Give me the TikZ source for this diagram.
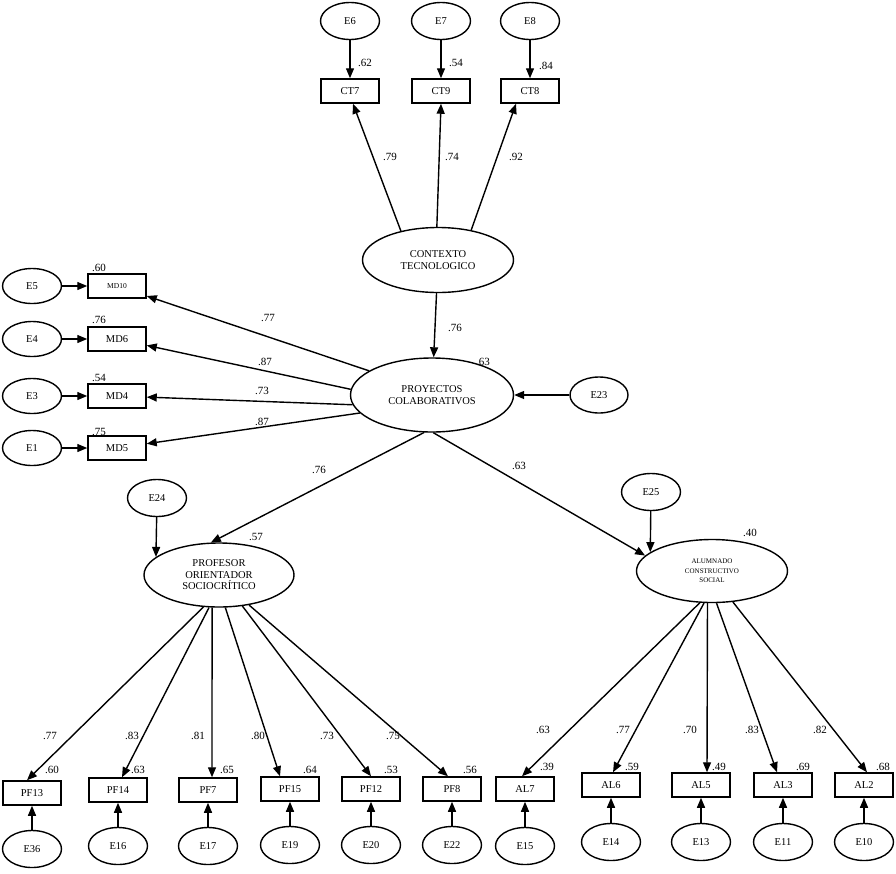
\documentclass[tikz,border=0pt]{standalone}
\usepackage{fontspec}
\setmainfont{Liberation Serif}
\usetikzlibrary{shapes.geometric,arrows.meta}

\tikzset{
  err/.style={draw,ellipse,line width=1.4pt,minimum width=59pt,minimum height=37pt,inner sep=0pt,font=\fontsize{10.5}{11}\selectfont},
  obs/.style={draw,rectangle,line width=1.5pt,minimum width=58pt,minimum height=24pt,inner sep=0pt,font=\fontsize{10.5}{11}\selectfont},
  lat/.style={draw,ellipse,line width=1.4pt,inner sep=0pt,align=center,font=\fontsize{10.5}{11.5}\selectfont},
  path/.style={-{Triangle[length=10pt,width=8pt]},line width=1.4pt},
  coef/.style={inner sep=0pt,font=\fontsize{11}{11}\selectfont}
}

\begin{document}
\begin{tikzpicture}[x=1pt,y=-1pt]
\useasboundingbox (0,0) rectangle (896,873);

%Latent Variables
\node[lat,minimum width=151pt,minimum height=65pt] (ctx) at (438,260) {CONTEXTO\\TECNOLOGICO};
\node[lat,minimum width=163pt,minimum height=74pt] (pc) at (432,395) {PROYECTOS\\COLABORATIVOS};
\node[lat,minimum width=150pt,minimum height=64pt] (pof) at (219,575) {PROFESOR\\ORIENTADOR\\SOCIOCR\'ITICO};
\node[lat,minimum width=151pt,minimum height=63pt,font=\fontsize{7}{9.7}\selectfont] (alu) at (712,571) {ALUMNADO\\CONSTRUCTIVO\\SOCIAL};

%Disturbances
\node[err,minimum width=58pt,minimum height=36pt] (e23) at (599,395) {E23};
\node[err] (e24) at (157,498) {E24};
\node[err] (e25) at (651,492) {E25};
\draw[path] (e23) -- (pc);
\draw[path] (e24) -- (pof.164);
\draw[path] (e25) -- (alu.163);

%Structural Paths
\draw[path] (ctx) -- (pc);
\draw[path] (pc.258) -- (pof.104);
\draw[path] (pc.272) -- (alu.167);
\node[coef] (b1) at (455,328) {.76};
\node[coef] (b2) at (319,470) {.76};
\node[coef] (b3) at (519,466) {.63};
\node[coef] (r1) at (483,362) {.63};
\node[coef] (r2) at (256,537) {.57};
\node[coef] (r3) at (750,533) {.40};

%Contexto Tecnologico Indicators
\foreach \n/\t/\e/\x/\a/\d/\l/\lx/\r/\rx/\ry in {ct7/CT7/E6/350/142/3/.79/390/.62/365/63,
  ct9/CT9/E7/441/92/0/.74/452/.54/456/63,
  ct8/CT8/E8/530/42/-14/.92/516/.84/546/66}{
  \node[err] (e\n) at (\x,21) {\e};
  \node[obs] (\n) at (\x,91) {\t};
  \draw[path] (e\n) -- (\n);
  \draw[path] (ctx.\a) -- ([xshift=\d pt]\n.south);
  \node[coef] (l\n) at (\lx,157) {\l};
  \node[coef] (q\n) at (\rx,\ry) {\r};
}

%Proyectos Colaborativos Indicators
\foreach \n/\t/\e/\y/\a/\l/\lx/\ly/\r/\ry in {md10/{\fontsize{7.5}{8}\selectfont MD10}/E5/286/159/.77/268/318/.60/268,
  md6/MD6/E4/339/176/.87/265/362/.76/320,
  md4/MD4/E3/396/187/.73/262/391/.54/378,
  md5/MD5/E1/448/194/.87/262/422/.75/432}{
  \node[err,minimum height=35pt] (e\n) at (32,\y) {\e};
  \node[obs] (\n) at (117,\y) {\t};
  \draw[path] (e\n) -- (\n);
  \draw[path] (pc.\a) -- (\n);
  \node[coef] (l\n) at (\lx,\ly) {\l};
  \node[coef] (q\n) at (99,\ry) {\r};
}

%Profesor Indicators
\foreach \n/\t/\e/\x/\y/\a/\d/\l/\lx/\r/\rx in {pf13/PF13/E36/32/793/244/-5/.77/50/.60/52,
  pf14/PF14/E16/118/790/253/4/.83/132/.63/138,
  pf7/PF7/E17/208/790/258/4/.81/198/.65/227,
  pf15/PF15/E19/290/789/281/-10/.80/258/.64/310,
  pf12/PF12/E20/371/789/307/0/.73/327/.53/391,
  pf8/PF8/E22/452/789/315/-4/.75/393/.56/470}{
  \node[obs] (\n) at (\x,\y) {\t};
  \node[err] (e\n) at (\x,\y+56) {\e};
  \draw[path] (e\n) -- (\n);
  \draw[path] (pof.\a) -- ([xshift=\d pt]\n.north);
  \node[coef] (l\n) at (\lx,736) {\l};
  \node[coef] (q\n) at (\rx,770) {\r};
}

%Alumnado Indicators
\foreach \n/\t/\e/\x/\y/\a/\d/\l/\lx/\r/\rx in {al7/AL7/E15/525/789/249/-3/.63/543/.39/547,
  al6/AL6/E14/611/785/256/2/.77/623/.59/632,
  al5/AL5/E13/701/785/262/6/.70/690/.49/719,
  al3/AL3/E11/783/785/278/-6/.83/752/.69/803,
  al2/AL2/E10/864/785/304/3/.82/820/.68/883}{
  \node[obs] (\n) at (\x,\y) {\t};
  \node[err] (e\n) at (\x,\y+57) {\e};
  \draw[path] (e\n) -- (\n);
  \draw[path] (alu.\a) -- ([xshift=\d pt]\n.north);
  \node[coef] (l\n) at (\lx,730) {\l};
  \node[coef] (q\n) at (\rx,767) {\r};
}
\end{tikzpicture}
\end{document}
